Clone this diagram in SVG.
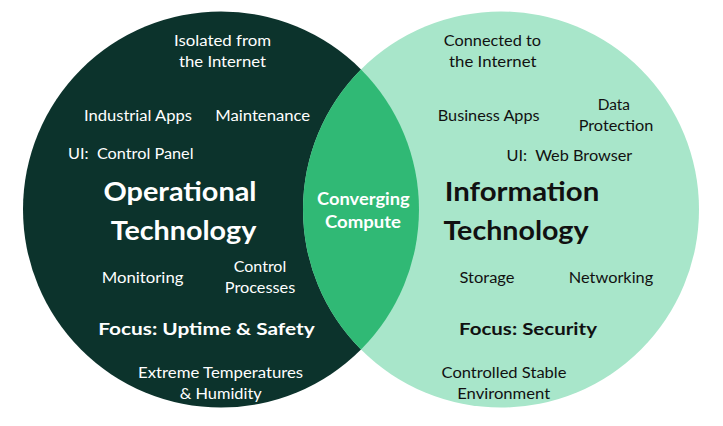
<svg xmlns="http://www.w3.org/2000/svg" width="723" height="426" viewBox="0 0 723 426">
  <style>
    text { font-family: Lato, "Open Sans", "Liberation Sans", sans-serif; text-anchor: middle; white-space: pre; }
    .reg { font-size: 15.5px; }
    .title { font-size: 27.5px; font-weight: bold; }
    .focus { font-size: 17.5px; font-weight: bold; }
    .mid { font-size: 16.5px; font-weight: bold; fill: #ffffff; }
    .ot { fill: #ffffff; }
    .it { fill: #111111; }
    .start { text-anchor: start; }
  </style>
  <rect width="723" height="426" fill="#ffffff"/>

  <!-- Operational Technology set -->
  <g id="ot-circle">
    <circle cx="221" cy="209.5" r="198" fill="#0c332c"/>
  </g>

  <!-- Information Technology set -->
  <g id="it-circle">
    <circle cx="501" cy="209.5" r="198" fill="#a8e6ca"/>
  </g>

  <!-- Overlap of the two sets -->
  <g id="converging">
    <path d="M361,69.5 A198,198 0 0,1 361,349.5 A198,198 0 0,1 361,69.5 Z" fill="#30b975"/>
    <text class="mid" x="363.4" y="204.5" textLength="92.6" lengthAdjust="spacingAndGlyphs">Converging</text>
    <text class="mid" x="363" y="228" textLength="76" lengthAdjust="spacingAndGlyphs">Compute</text>
  </g>

  <!-- Operational Technology labels -->
  <g id="ot-labels" class="ot">
    <text class="reg ot" x="222.5" y="46" textLength="97" lengthAdjust="spacingAndGlyphs">Isolated from</text>
    <text class="reg ot" x="222.5" y="67" textLength="87" lengthAdjust="spacingAndGlyphs">the Internet</text>
    <text class="reg ot" x="138" y="121" textLength="108" lengthAdjust="spacingAndGlyphs">Industrial Apps</text>
    <text class="reg ot" x="262.7" y="121" textLength="95" lengthAdjust="spacingAndGlyphs">Maintenance</text>
    <text class="reg ot start" x="68" y="159" textLength="125.5" lengthAdjust="spacingAndGlyphs">UI:  Control Panel</text>
    <text class="title ot" x="180" y="201" textLength="153" lengthAdjust="spacingAndGlyphs">Operational</text>
    <text class="title ot" x="183.5" y="240" textLength="145.6" lengthAdjust="spacingAndGlyphs">Technology</text>
    <text class="reg ot" x="142.6" y="283" textLength="81.6" lengthAdjust="spacingAndGlyphs">Monitoring</text>
    <text class="reg ot" x="260" y="272" textLength="52.4" lengthAdjust="spacingAndGlyphs">Control</text>
    <text class="reg ot" x="260" y="293" textLength="70.5" lengthAdjust="spacingAndGlyphs">Processes</text>
    <text class="focus ot" x="206.5" y="334.5" textLength="216.6" lengthAdjust="spacingAndGlyphs">Focus: Uptime &amp; Safety</text>
    <text class="reg ot" x="220.6" y="378" textLength="165" lengthAdjust="spacingAndGlyphs">Extreme Temperatures</text>
    <text class="reg ot" x="220.7" y="399" textLength="82" lengthAdjust="spacingAndGlyphs">&amp; Humidity</text>
  </g>

  <!-- Information Technology labels -->
  <g id="it-labels" class="it">
    <text class="reg it" x="492.4" y="46" textLength="97.2" lengthAdjust="spacingAndGlyphs">Connected to</text>
    <text class="reg it" x="492.8" y="67" textLength="87.4" lengthAdjust="spacingAndGlyphs">the Internet</text>
    <text class="reg it" x="488.7" y="121" textLength="101.8" lengthAdjust="spacingAndGlyphs">Business Apps</text>
    <text class="reg it" x="613.8" y="110" textLength="32.3" lengthAdjust="spacingAndGlyphs">Data</text>
    <text class="reg it" x="616" y="131" textLength="74.7" lengthAdjust="spacingAndGlyphs">Protection</text>
    <text class="reg it start" x="506.5" y="161" textLength="125.8" lengthAdjust="spacingAndGlyphs">UI:  Web Browser</text>
    <text class="title it" x="522" y="201" textLength="154.5" lengthAdjust="spacingAndGlyphs" fill="#000000">Information</text>
    <text class="title it" x="516" y="240" textLength="145.2" lengthAdjust="spacingAndGlyphs" fill="#000000">Technology</text>
    <text class="reg it" x="487" y="283" textLength="55" lengthAdjust="spacingAndGlyphs">Storage</text>
    <text class="reg it" x="611" y="283" textLength="84.3" lengthAdjust="spacingAndGlyphs">Networking</text>
    <text class="focus it" x="528" y="335" textLength="138" lengthAdjust="spacingAndGlyphs">Focus: Security</text>
    <text class="reg it" x="504" y="378" textLength="125" lengthAdjust="spacingAndGlyphs">Controlled Stable</text>
    <text class="reg it" x="503.7" y="399" textLength="93" lengthAdjust="spacingAndGlyphs">Environment</text>
  </g>
</svg>
